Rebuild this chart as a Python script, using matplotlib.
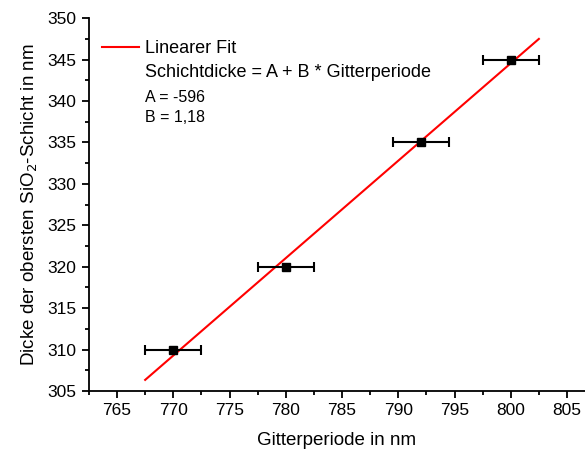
import numpy as np
import matplotlib.pyplot as plt
from matplotlib.ticker import MultipleLocator

plt.rcParams['font.family'] = ['Liberation Sans', 'DejaVu Sans']

# data
periode = np.array([770, 780, 792, 800])
dicke = np.array([310, 320, 335, 345])
periode_err = np.array([2.5, 2.5, 2.5, 2.5])

# linear fit
B, A = np.polyfit(periode, dicke, 1)
x_fit = np.array([periode.min() - periode_err[0], periode.max() + periode_err[-1]])
y_fit = A + B * x_fit

fig = plt.figure(figsize=(5.85, 4.53), dpi=100)
ax = fig.add_axes([0.152, 0.137, 0.848, 0.823])

ax.plot(x_fit, y_fit, color='red', lw=1.5, label='Linearer Fit')
ax.errorbar(periode, dicke, xerr=periode_err, fmt='s', color='black',
            ms=6, elinewidth=1.5, capsize=3.5, capthick=1.5, zorder=3)

ax.set_xlim(762.5, 806.6)
ax.set_ylim(305, 350)
ax.xaxis.set_major_locator(MultipleLocator(5))
ax.xaxis.set_minor_locator(MultipleLocator(2.5))
ax.yaxis.set_major_locator(MultipleLocator(5))
ax.yaxis.set_minor_locator(MultipleLocator(2.5))
for s in ['top', 'right']:
    ax.spines[s].set_visible(False)
for s in ['left', 'bottom']:
    ax.spines[s].set_linewidth(1.3)
ax.tick_params(which='major', direction='out', length=5, width=1.3, labelsize=12.5, pad=4)
ax.tick_params(which='minor', direction='out', length=3, width=1.3)

ax.set_xlabel('Gitterperiode in nm', fontsize=13.5, labelpad=10)
ax.set_ylabel('Dicke der obersten SiO$_2$-Schicht in nm', fontsize=13.5, labelpad=5)

leg = ax.legend(loc='upper left', bbox_to_anchor=(0.0, 0.975), frameon=False,
                fontsize=13, handlelength=2.1, handletextpad=0.3, borderaxespad=0.3)
ax.text(0.114, 0.853, 'Schichtdicke = A + B * Gitterperiode', transform=ax.transAxes,
        fontsize=13, va='center')
ax.text(0.114, 0.787, f'A = {A:.0f}', transform=ax.transAxes, fontsize=11.5, va='center')
ax.text(0.114, 0.733, f'B = {B:.2f}'.replace('.', ','), transform=ax.transAxes,
        fontsize=11.5, va='center')

fig.savefig('out.png', dpi=100)
